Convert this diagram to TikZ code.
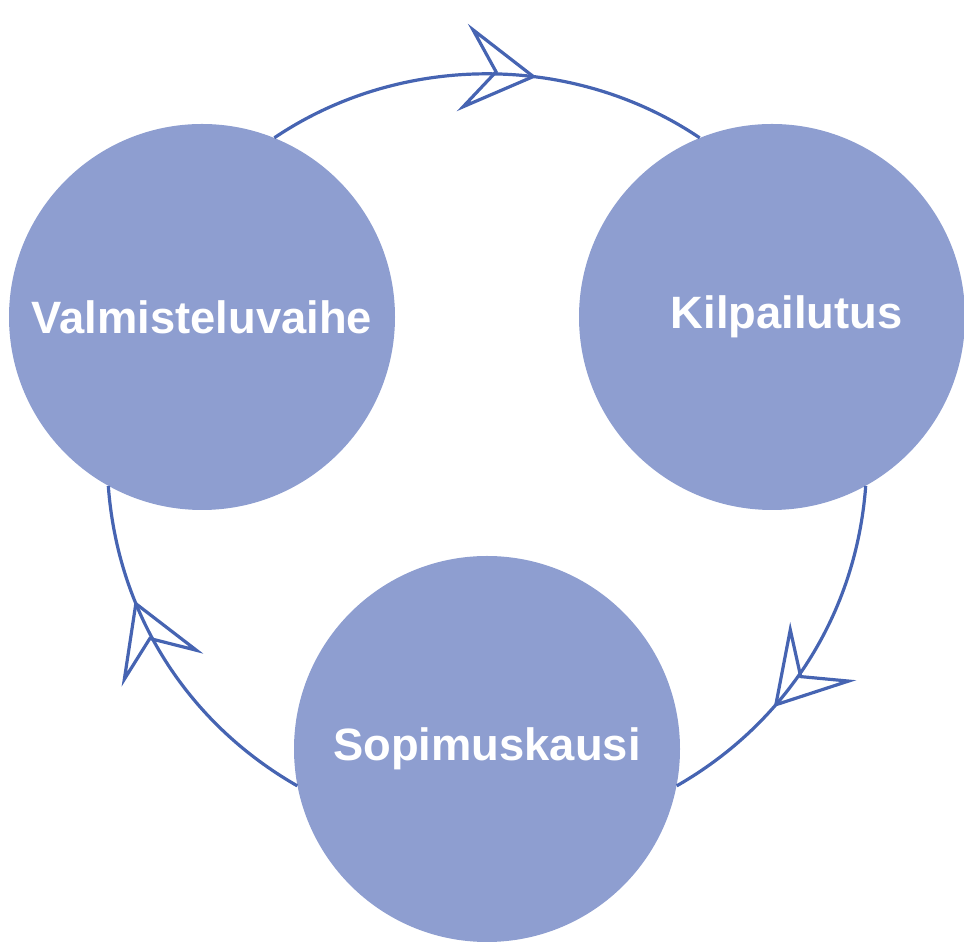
\documentclass[tikz,border=0pt]{standalone}
\usepackage{fontspec}
\setmainfont{Liberation Sans}
\usetikzlibrary{arrows.meta,decorations.markings}

\definecolor{phasefill}{RGB}{142,158,208}
\definecolor{cycleblue}{RGB}{70,100,178}

\tikzset{
  phase/.style={circle, fill=phasefill, minimum size=289.5pt, inner sep=0pt,
    text=white, font=\fontsize{34}{40}\selectfont\bfseries},
  cycleline/.style={draw=cycleblue, line width=2.4pt, looseness=0.92},
  cyclearrow/.style={postaction={decorate}, decoration={markings,
    mark=at position #1 with {\arrow[cycleblue, line width=2.4pt]{Stealth[length=56pt, width=66pt, inset=24pt, open]}}}}
}

\begin{document}
\begin{tikzpicture}[x=0.75pt, y=0.75pt]
      \useasboundingbox (0,0) rectangle (964,945);

      % The three phases
      \node[phase] (valm) at (202,628) {Valmisteluvaihe};
      \node[phase] (kilp) at (772,628) {\hspace*{22pt}Kilpailutus};
      \node[phase] (sopi) at (487,196) {Sopimuskausi};

      % Cycle arcs between the phases
      \draw[cycleline, cyclearrow=0.61] (valm.68) to[bend left=34] (kilp.112);
      \draw[cycleline, cyclearrow=0.66] (kilp.-61) to[bend left=28] (sopi.-11);
      \draw[cycleline, cyclearrow=0.68] (sopi.191) to[bend left=28] (valm.241);

\end{tikzpicture}
\end{document}
